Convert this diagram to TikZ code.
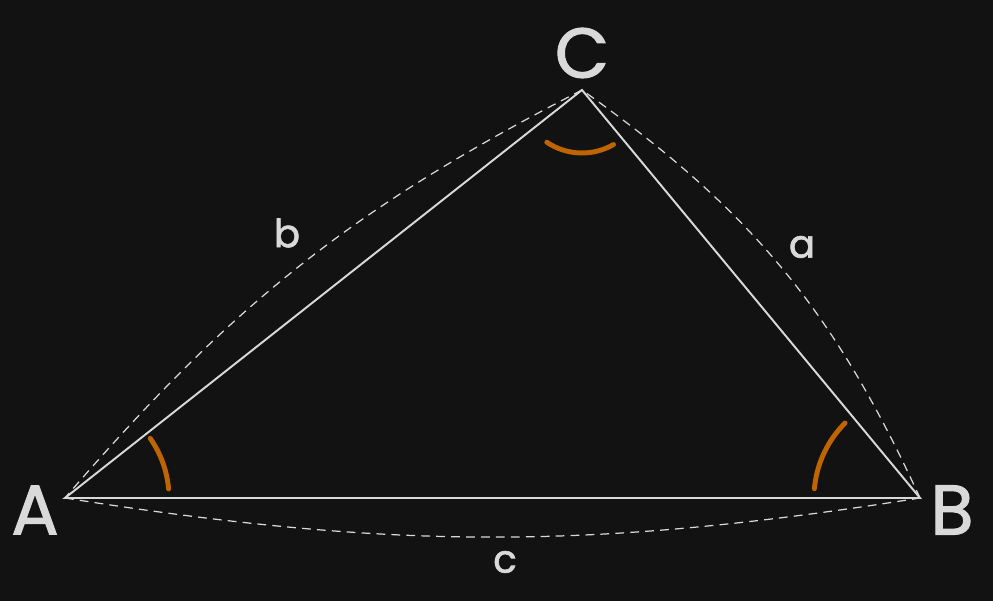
\documentclass[tikz,border=0pt]{standalone}
\usepackage{fontspec}
\setmainfont{Poppins}
\newfontfamily\handfont{Poppins}[FakeBold=1.6]
\usetikzlibrary{arrows, arrows.meta}
\usetikzlibrary{calc}

\definecolor{bgdark}{HTML}{121212}
\definecolor{chalk}{HTML}{D9D9D9}
\definecolor{anglecol}{RGB}{190,100,0}

\begin{document}
\begin{tikzpicture}[
    side/.style={draw=chalk, line width=1.1pt},
    guide/.style={draw=chalk, line width=0.7pt, dash pattern=on 5pt off 3.5pt},
    anglemark/.style={draw=anglecol, line width=2.8pt, line cap=round},
    vertexlabel/.style={text=chalk, font=\handfont\fontsize{40}{44}\selectfont},
    sidelabel/.style={text=chalk, font=\handfont\fontsize{22}{24}\selectfont}
  ]
    \fill[bgdark] (0,0) rectangle (19.86,12.02);
    \useasboundingbox (0,0) rectangle (19.86,12.02);

    \coordinate (A) at (1.30,2.06);
    \coordinate (B) at (18.40,2.06);
    \coordinate (C) at (11.64,10.22);

    \draw[side] (A) -- (B) -- (C) -- cycle;

    \draw[guide] (A) to[bend right=9] (B);
    \draw[guide] (B) to[bend right=15] (C);
    \draw[guide] (C) to[bend right=11] (A);

    \draw[anglemark] ([shift={(5:2.08)}]A) arc[start angle=5, end angle=35, radius=2.08];
    \draw[anglemark] ([shift={(135:2.12)}]B) arc[start angle=135, end angle=175, radius=2.12];
    \draw[anglemark] ([shift={(236:1.26)}]C) arc[start angle=236, end angle=300, radius=1.26];

    \node[vertexlabel] (labelA) at (0.70,1.82) {A};
    \node[vertexlabel] (labelB) at (19.04,1.82) {B};
    \node[vertexlabel] (labelC) at (11.64,10.96) {C};

    \node[sidelabel] (labela) at (16.04,7.08) {a};
    \node[sidelabel] (labelb) at (5.74,7.36) {b};
    \node[sidelabel] (labelc) at (10.10,0.78) {c};
  \end{tikzpicture}
\end{document}
